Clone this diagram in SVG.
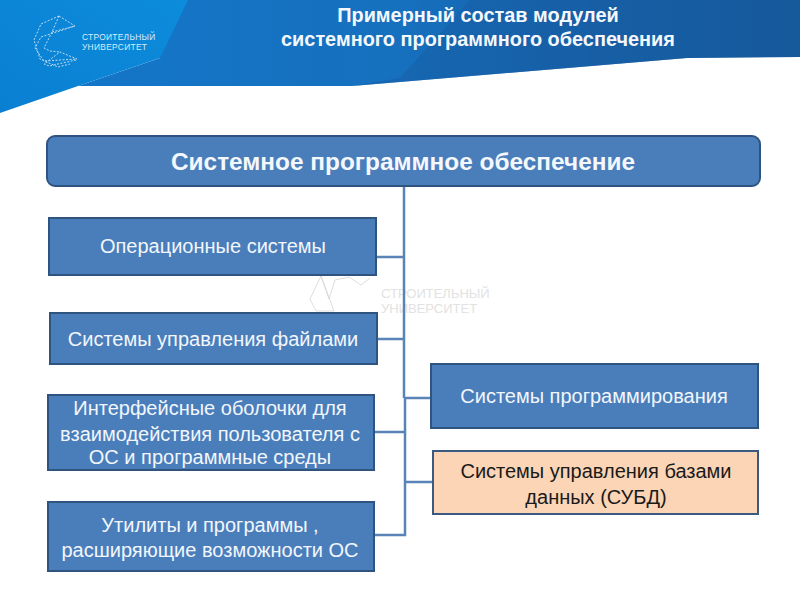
<svg xmlns="http://www.w3.org/2000/svg" width="800" height="600" viewBox="0 0 800 600">
<defs>
<linearGradient id="bar" x1="0" x2="1" y1="0" y2="0"><stop offset="0" stop-color="#1476c8"/><stop offset="0.45" stop-color="#1670be"/><stop offset="0.7" stop-color="#175fa6"/><stop offset="1" stop-color="#15548f"/></linearGradient>
<linearGradient id="light" x1="0" x2="1" y1="1" y2="0"><stop offset="0" stop-color="#0a7fd2"/><stop offset="1" stop-color="#0d8cdc"/></linearGradient>
</defs>
<style>
.t{font-family:"Liberation Sans",Arial,sans-serif;text-anchor:middle}
.box{fill:#4a7ebb;stroke:#2f5480;stroke-width:2}
.w{fill:#f2f6fb;font-size:20px}
.c{fill:none;stroke:#5a84b8;stroke-width:2.5}
.logo{fill:none;stroke:#bcdcf2;stroke-width:1;stroke-dasharray:2 1.5}
.wm{fill:none;stroke:#d4d4d4;stroke-width:.8}
</style>
<rect width="800" height="600" fill="#fff"/>
<g id="banner">
<polygon points="160,0 800,0 800,57 687,58 352,86 78,86 160,58" fill="url(#bar)"/>
<polygon points="352,86 400,78 470,0 800,0 800,57 687,58" fill="#175ea6" opacity=".55"/>
<polygon points="0,0 188,0 160,58 78,86 0,113" fill="url(#light)"/>
</g>
<g id="logo">
<path class="logo" d="M59,16 L75,26 L41,37 L35,48 L44,61 L77,59 L60,52 L44,64 L49,66 L76,60 M59,16 L41,24 L34,40 L40,59 L58,67 L70,64 M59,16 L52,32 L75,26 M52,32 L44,48 L50,51 L60,52"/>
<text x="82" y="40" font-family="Liberation Sans,Arial,sans-serif" font-size="8.4" fill="#d6ecfa" letter-spacing=".3">СТРОИТЕЛЬНЫЙ</text>
<text x="82" y="50" font-family="Liberation Sans,Arial,sans-serif" font-size="8.4" fill="#d6ecfa" letter-spacing=".3">УНИВЕРСИТЕТ</text>
</g>
<g id="title" class="t" fill="#f4f8fc" font-weight="bold" font-size="19.9">
<text x="478" y="22">Примерный состав модулей</text>
<text x="478" y="46">системного программного обеспечения</text>
</g>
<g id="watermark">
<path class="wm" d="M321,276 L310,299 L316,311 L334,311 L321,276 L329,299 L335,280 L349,277 L361,285 L370,278"/>
<text x="381" y="298" font-family="Liberation Sans,Arial,sans-serif" font-size="13" fill="#e2e2e2">СТРОИТЕЛЬНЫЙ</text>
<text x="381" y="313" font-family="Liberation Sans,Arial,sans-serif" font-size="13" fill="#e2e2e2">УНИВЕРСИТЕТ</text>
</g>
<g id="connectors">
<path class="c" d="M404,187 V398 M405,398 V535 H375 M376,257 H404 M376,339 H404 M375,432 H404 M405,398 H431 M405,482 H433"/>
</g>
<g id="n0"><rect class="box" x="47" y="136" width="713" height="50" rx="8"/><text class="t" x="403" y="170" fill="#f4f8fc" font-weight="bold" font-size="24.4">Системное программное обеспечение</text></g>
<g id="n1"><rect class="box" x="49" y="218" width="327" height="57"/><text class="t w" x="213" y="253">Операционные системы</text></g>
<g id="n2"><rect class="box" x="50" y="313" width="327" height="51"/><text class="t w" x="213" y="346">Системы управления файлами</text></g>
<g id="n3"><rect class="box" x="48" y="395" width="326" height="75"/><text class="t w"><tspan x="210" y="415">Интерфейсные оболочки для</tspan><tspan x="210" y="441">взаимодействия пользователя с</tspan><tspan x="210" y="464">ОС и программные среды</tspan></text></g>
<g id="n4"><rect class="box" x="48" y="502" width="326" height="69"/><text class="t w"><tspan x="210" y="532">Утилиты и программы ,</tspan><tspan x="210" y="557">расширяющие возможности ОС</tspan></text></g>
<g id="n5"><rect class="box" x="431" y="364" width="327" height="64"/><text class="t w" x="594" y="403">Системы программирования</text></g>
<g id="n6"><rect x="433" y="451" width="325" height="63" fill="#fbd5b5" stroke="#3a5a82" stroke-width="2"/><text class="t" fill="#1a1a1a" font-size="20"><tspan x="596" y="478">Системы управления базами</tspan><tspan x="596" y="504">данных (СУБД)</tspan></text></g>
</svg>
